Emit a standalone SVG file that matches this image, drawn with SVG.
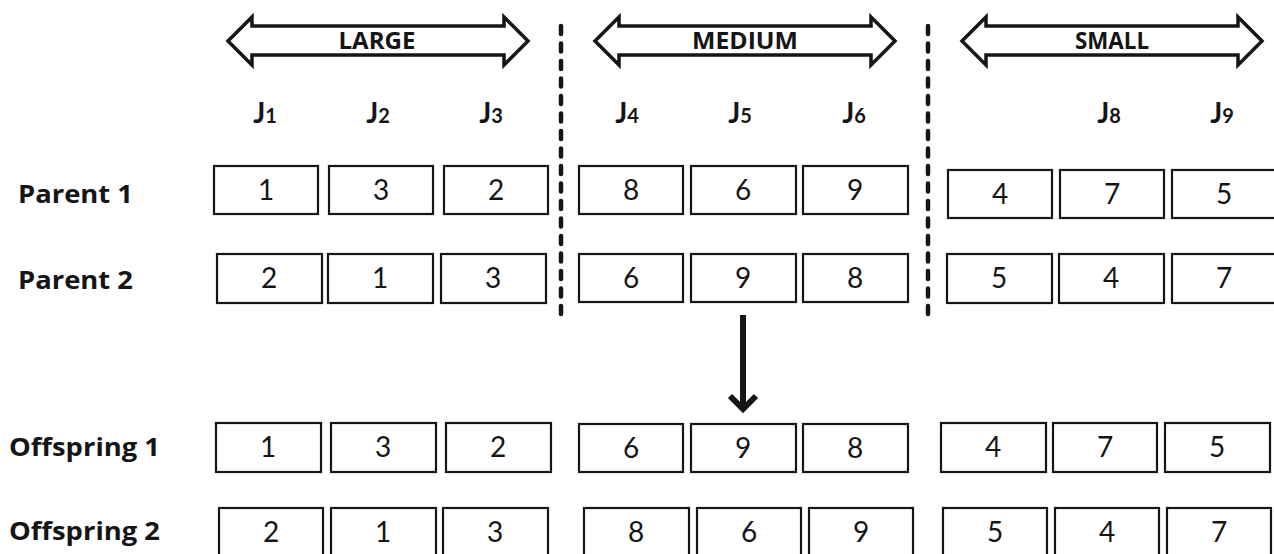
<svg xmlns="http://www.w3.org/2000/svg" width="1274" height="554" viewBox="0 0 1274 554">
<style>
.bx{fill:#fff;stroke:#151515;stroke-width:2.2}
.num{font-family:Lato,"Liberation Sans",sans-serif;font-size:28px;fill:#151515;text-anchor:middle}
.lbl{font-family:"Open Sans","Liberation Sans",sans-serif;font-size:25px;font-weight:bold;fill:#151515}
.grp{font-family:"Open Sans","Liberation Sans",sans-serif;font-size:23px;font-weight:bold;fill:#151515;text-anchor:middle}
.j{font-family:Lato,"Liberation Sans",sans-serif;font-size:28px;font-weight:bold;fill:#151515;text-anchor:middle}
.j tspan{font-size:20px}
.dbl{fill:#fff;stroke:#151515;stroke-width:3.5;stroke-linejoin:miter}
.dash{stroke:#151515;stroke-width:4.5;stroke-linecap:round;stroke-dasharray:8 9.5;fill:none}
</style>
<rect width="1274" height="554" fill="#fff"/>

<g id="range-large">
<path class="dbl" d="M228,41 L252,17 L252,26 L504,26 L504,17 L528,41 L504,65 L504,55 L252,55 L252,65 Z"/>
<text class="grp" x="377" y="49" textLength="77" lengthAdjust="spacingAndGlyphs">LARGE</text>
</g>
<g id="range-medium">
<path class="dbl" d="M595,41 L619,17 L619,26 L871,26 L871,17 L895,41 L871,65 L871,55 L619,55 L619,65 Z"/>
<text class="grp" x="745" y="49" textLength="106" lengthAdjust="spacingAndGlyphs">MEDIUM</text>
</g>
<g id="range-small">
<path class="dbl" d="M962,41 L986,17 L986,26 L1238,26 L1238,17 L1262,41 L1238,65 L1238,55 L986,55 L986,65 Z"/>
<text class="grp" x="1112" y="49" textLength="74" lengthAdjust="spacingAndGlyphs">SMALL</text>
</g>

<g id="separators">
<line class="dash" x1="561" y1="26" x2="561" y2="314"/>
<line class="dash" x1="928" y1="26" x2="928" y2="314"/>
</g>

<g id="job-labels">
<text class="j" x="265" y="123">J<tspan>1</tspan></text>
<text class="j" x="378" y="123">J<tspan>2</tspan></text>
<text class="j" x="491" y="123">J<tspan>3</tspan></text>
<text class="j" x="627" y="123">J<tspan>4</tspan></text>
<text class="j" x="740" y="123">J<tspan>5</tspan></text>
<text class="j" x="854" y="123">J<tspan>6</tspan></text>
<text class="j" x="1109" y="123">J<tspan>8</tspan></text>
<text class="j" x="1222" y="123">J<tspan>9</tspan></text>
</g>

<g id="row-labels">
<text class="lbl" x="18" y="203" textLength="115" lengthAdjust="spacingAndGlyphs">Parent 1</text>
<text class="lbl" x="18" y="289" textLength="115" lengthAdjust="spacingAndGlyphs">Parent 2</text>
<text class="lbl" x="9" y="456" textLength="151" lengthAdjust="spacingAndGlyphs">Offspring 1</text>
<text class="lbl" x="9" y="540" textLength="151" lengthAdjust="spacingAndGlyphs">Offspring 2</text>
</g>

<g id="parent1">
<g id="p1-1"><rect class="bx" x="214" y="166" width="104" height="48"/><text class="num" x="266" y="200">1</text></g>
<g id="p1-2"><rect class="bx" x="329" y="166" width="104" height="48"/><text class="num" x="381" y="200">3</text></g>
<g id="p1-3"><rect class="bx" x="444" y="166" width="104" height="48"/><text class="num" x="496" y="200">2</text></g>
<g id="p1-4"><rect class="bx" x="579" y="166" width="104" height="48"/><text class="num" x="631" y="200">8</text></g>
<g id="p1-5"><rect class="bx" x="691" y="166" width="105" height="48"/><text class="num" x="743" y="200">6</text></g>
<g id="p1-6"><rect class="bx" x="803" y="166" width="105" height="48"/><text class="num" x="855" y="200">9</text></g>
<g id="p1-7"><rect class="bx" x="948" y="170" width="104" height="48"/><text class="num" x="1000" y="204">4</text></g>
<g id="p1-8"><rect class="bx" x="1060" y="170" width="104" height="48"/><text class="num" x="1112" y="204">7</text></g>
<g id="p1-9"><rect class="bx" x="1172" y="170" width="104" height="48"/><text class="num" x="1224" y="204">5</text></g>
</g>

<g id="parent2">
<g id="p2-1"><rect class="bx" x="217" y="254" width="105" height="49"/><text class="num" x="269" y="288">2</text></g>
<g id="p2-2"><rect class="bx" x="328" y="254" width="105" height="49"/><text class="num" x="380" y="288">1</text></g>
<g id="p2-3"><rect class="bx" x="441" y="254" width="105" height="49"/><text class="num" x="493" y="288">3</text></g>
<g id="p2-4"><rect class="bx" x="579" y="254" width="104" height="48"/><text class="num" x="631" y="288">6</text></g>
<g id="p2-5"><rect class="bx" x="691" y="254" width="105" height="48"/><text class="num" x="743" y="288">9</text></g>
<g id="p2-6"><rect class="bx" x="803" y="254" width="105" height="48"/><text class="num" x="855" y="288">8</text></g>
<g id="p2-7"><rect class="bx" x="947" y="254" width="105" height="49"/><text class="num" x="999" y="288">5</text></g>
<g id="p2-8"><rect class="bx" x="1059" y="254" width="105" height="49"/><text class="num" x="1111" y="288">4</text></g>
<g id="p2-9"><rect class="bx" x="1172" y="254" width="105" height="49"/><text class="num" x="1224" y="288">7</text></g>
</g>

<g id="offspring1">
<g id="o1-1"><rect class="bx" x="216" y="423" width="105" height="49"/><text class="num" x="268" y="457">1</text></g>
<g id="o1-2"><rect class="bx" x="331" y="423" width="105" height="49"/><text class="num" x="383" y="457">3</text></g>
<g id="o1-3"><rect class="bx" x="446" y="423" width="105" height="49"/><text class="num" x="498" y="457">2</text></g>
<g id="o1-4"><rect class="bx" x="579" y="424" width="104" height="48"/><text class="num" x="631" y="458">6</text></g>
<g id="o1-5"><rect class="bx" x="691" y="424" width="105" height="48"/><text class="num" x="743" y="458">9</text></g>
<g id="o1-6"><rect class="bx" x="803" y="424" width="105" height="48"/><text class="num" x="855" y="458">8</text></g>
<g id="o1-7"><rect class="bx" x="941" y="423" width="105" height="49"/><text class="num" x="993" y="457">4</text></g>
<g id="o1-8"><rect class="bx" x="1053" y="423" width="104" height="49"/><text class="num" x="1105" y="457">7</text></g>
<g id="o1-9"><rect class="bx" x="1165" y="423" width="105" height="49"/><text class="num" x="1217" y="457">5</text></g>
</g>

<g id="offspring2">
<g id="o2-1"><rect class="bx" x="219" y="508" width="104" height="50"/><text class="num" x="271" y="542">2</text></g>
<g id="o2-2"><rect class="bx" x="331" y="508" width="105" height="50"/><text class="num" x="383" y="542">1</text></g>
<g id="o2-3"><rect class="bx" x="443" y="508" width="105" height="50"/><text class="num" x="495" y="542">3</text></g>
<g id="o2-4"><rect class="bx" x="584" y="508" width="105" height="50"/><text class="num" x="636" y="542">8</text></g>
<g id="o2-5"><rect class="bx" x="697" y="508" width="104" height="50"/><text class="num" x="749" y="542">6</text></g>
<g id="o2-6"><rect class="bx" x="809" y="508" width="104" height="50"/><text class="num" x="861" y="542">9</text></g>
<g id="o2-7"><rect class="bx" x="943" y="508" width="104" height="50"/><text class="num" x="995" y="542">5</text></g>
<g id="o2-8"><rect class="bx" x="1055" y="508" width="104" height="50"/><text class="num" x="1107" y="542">4</text></g>
<g id="o2-9"><rect class="bx" x="1167" y="508" width="104" height="50"/><text class="num" x="1219" y="542">7</text></g>
</g>

<g id="connectors" stroke="#151515" fill="none" stroke-width="6">
<line x1="743" y1="315" x2="743" y2="406"/>
<polyline points="730,396 743,409 756,396" stroke-linejoin="miter"/>
</g>
</svg>
